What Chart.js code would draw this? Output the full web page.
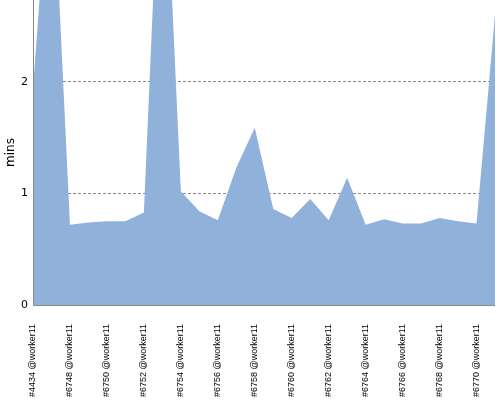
<!DOCTYPE html>
<html>
<head>
<meta charset="utf-8">
<script src="https://cdn.jsdelivr.net/npm/chart.js@4"></script>
<style>
  html, body { margin: 0; padding: 0; background: #fff; }
  #wrap { width: 500px; height: 400px; }
</style>
</head>
<body>
<div id="wrap"><canvas id="chart-mins"></canvas></div>
<script>
// builds and how long each took (minutes)
const builds = ['#4434 @worker11', '#6747 @worker11', '#6748 @worker11', '#6749 @worker11',
    '#6750 @worker11', '#6751 @worker11', '#6752 @worker11', '#6753 @worker11',
    '#6754 @worker11', '#6755 @worker11', '#6756 @worker11', '#6757 @worker11',
    '#6758 @worker11', '#6759 @worker11', '#6760 @worker11', '#6761 @worker11',
    '#6762 @worker11', '#6763 @worker11', '#6764 @worker11', '#6765 @worker11',
    '#6766 @worker11', '#6767 @worker11', '#6768 @worker11', '#6769 @worker11',
    '#6770 @worker11', '#6771 @worker11'];
const mins = [1.94, 4.2, 0.72, 0.74, 0.75, 0.75, 0.83, 4.65, 1.02, 0.84, 0.76, 1.23, 1.59,
    0.86, 0.78, 0.95, 0.76, 1.14, 0.72, 0.77, 0.73, 0.73, 0.78, 0.75, 0.73, 2.60];
const yTicks = [0, 1, 2];

// axis lines sit on top of the filled area, grid lines stay under it
const axisLines = {
    id: 'axisLines',
    afterDatasetsDraw(chart) {
        const { ctx, chartArea: a } = chart;
        ctx.save();
        ctx.strokeStyle = '#888';
        ctx.lineWidth = 1;
        ctx.beginPath();
        ctx.moveTo(a.left + 0.5, a.top);
        ctx.lineTo(a.left + 0.5, a.bottom + 0.5);
        ctx.lineTo(a.right, a.bottom + 0.5);
        ctx.stroke();
        ctx.restore();
    }
};

document.addEventListener('DOMContentLoaded', function() {
    const ctx = document.getElementById('chart-mins').getContext('2d');

    new Chart(ctx, {
        type: 'line',
        data: {
            labels: builds,
            datasets: [{
                data: mins,
                fill: 'origin',
                backgroundColor: '#8fb1da',
                borderWidth: 0,
                pointRadius: 0,
                tension: 0
            }]
        },
        options: {
            responsive: true,
            maintainAspectRatio: false,
            animation: false,
            layout: { padding: { top: 0, right: 5, left: 0, bottom: 0 } },
            plugins: { legend: { display: false }, tooltip: { enabled: false } },
            scales: {
                x: {
                    grid: { display: false, drawTicks: false },
                    border: { display: false },
                    afterFit: axis => {
                        axis.height = 95;
                        axis.paddingLeft = 0;
                        axis.paddingRight = 0;
                    },
                    ticks: {
                        autoSkip: false,
                        minRotation: 90,
                        maxRotation: 90,
                        padding: 19,
                        color: '#000',
                        font: { family: 'Liberation Sans', size: 9 },
                        callback: (v, i) => i % 2 === 0 ? builds[i] : ''
                    }
                },
                y: {
                    min: 0,
                    max: 2.735,
                    afterBuildTicks: axis => { axis.ticks = yTicks.map(v => ({ value: v })); },
                    afterFit: axis => {
                        axis.width = 33;
                        axis.paddingTop = 0;
                        axis.paddingBottom = 0;
                    },
                    grid: {
                        drawTicks: false,
                        color: c => c.tick && c.tick.value === 0 ? 'rgba(0,0,0,0)' : '#888'
                    },
                    border: { display: false, dash: [3, 2] },
                    ticks: {
                        padding: 5,
                        color: '#000',
                        font: { family: 'DejaVu Sans', size: 11 }
                    },
                    title: {
                        display: true,
                        text: 'mins',
                        color: '#000',
                        padding: 4,
                        font: { family: 'DejaVu Sans', size: 12 }
                    }
                }
            }
        },
        plugins: [axisLines]
    });
});
</script>
</body>
</html>
